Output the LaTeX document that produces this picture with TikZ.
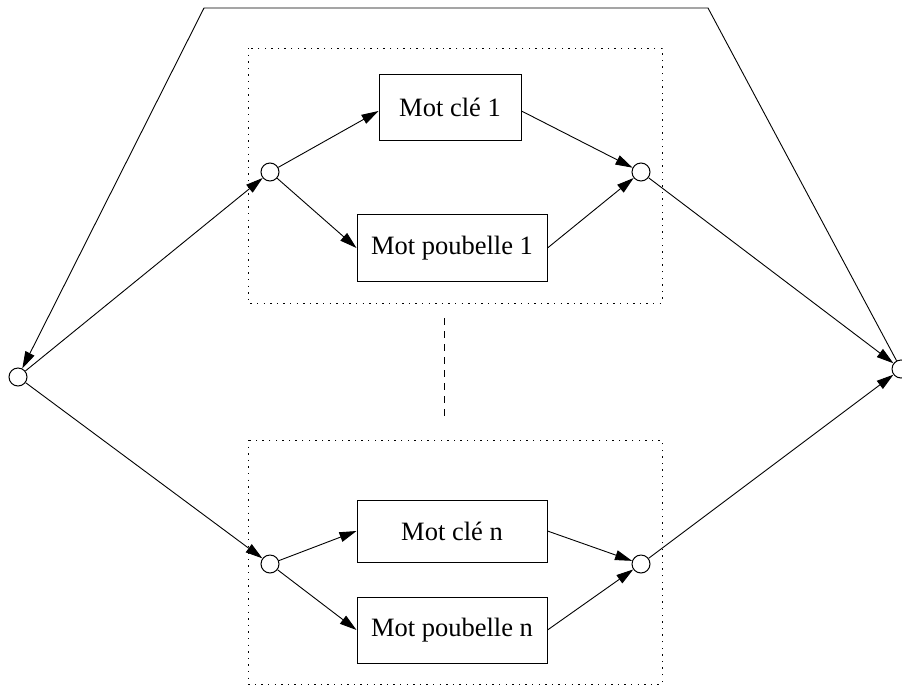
\documentclass[tikz,border=0pt]{standalone}
\usepackage{fontspec}
\setmainfont{Liberation Serif}
\usetikzlibrary{arrows.meta}
\begin{document}
\begin{tikzpicture}[x=1pt,y=-1pt,
  every node/.style={font=\fontsize{26.5}{30}\selectfont},
  junc/.style={circle,draw,line width=1pt,minimum size=18pt,inner sep=0pt},
  wordbox/.style={draw,line width=1pt,minimum height=66pt,inner sep=0pt},
  frame/.style={draw,line width=1pt,dash pattern=on 1.4pt off 5.2pt},
  conn/.style={line width=0.9pt,-{Triangle[length=17pt,width=10pt]}},
  sep/.style={line width=1pt,dash pattern=on 7pt off 6pt}]
\useasboundingbox (0,0) rectangle (902,686);
% dotted frames
\draw[frame] (248,48) rectangle (662,303);
\draw[frame] (248,440) rectangle (662,684);
% separator
\coordinate (s1) at (444,318);
\coordinate (s2) at (444,421);
\draw[sep] (s1) -- (s2);
% junctions
\node[junc] (cl) at (18,377) {};
\node[junc] (cr) at (901,369) {};
\node[junc] (a1) at (270,172) {};
\node[junc] (b1) at (641,172) {};
\node[junc] (an) at (270,564) {};
\node[junc] (bn) at (641,564) {};
% word boxes
\node[wordbox,minimum width=142pt] (k1) at (450,107) {Mot clé 1};
\node[wordbox,minimum width=190pt,minimum height=67pt] (p1) at (452,248) {Mot poubelle 1};
\node[wordbox,minimum width=190pt,minimum height=62pt] (kn) at (452,531) {Mot clé n};
\node[wordbox,minimum width=190pt] (pn) at (452,630) {Mot poubelle n};
% connectors
\draw[conn] (a1) -- ([yshift=-4pt]k1.west);
\draw[conn] (a1) -- (p1.west);
\draw[conn] ([yshift=-4pt]k1.east) -- (b1);
\draw[conn] (p1.east) -- (b1);
\draw[conn] (an) -- (kn.west);
\draw[conn] (an) -- (pn.west);
\draw[conn] (kn.east) -- (bn);
\draw[conn] (pn.east) -- (bn);
\draw[conn] (cl) -- (a1);
\draw[conn] (cl) -- (an);
\draw[conn] (b1) -- (cr);
\draw[conn] (bn) -- (cr);
% loop back
\coordinate (tr) at (708,8);
\coordinate (tl) at (204,8);
\draw[conn] (cr) -- (tr) -- (tl) -- (cl);
\end{tikzpicture}
\end{document}
